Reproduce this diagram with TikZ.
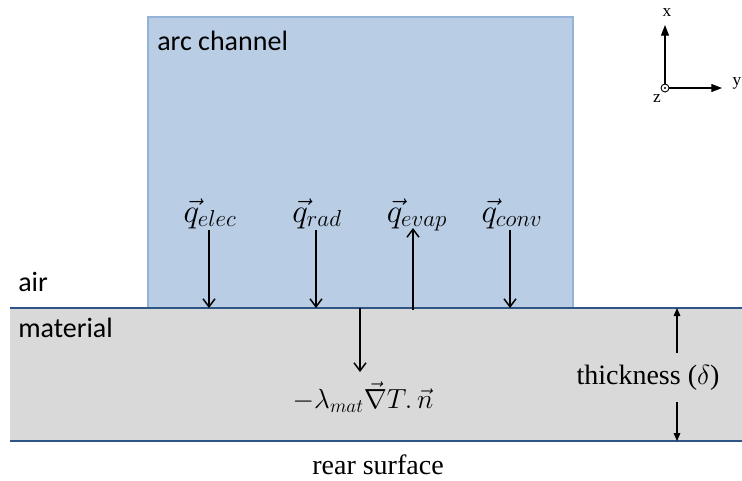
\documentclass[tikz,border=0pt]{standalone}
\usepackage{fontspec}
\setmainfont{Liberation Serif}
\newfontfamily\calib{Carlito}
\usetikzlibrary{arrows.meta}
\definecolor{arcfill}{HTML}{B9CDE5}
\definecolor{arcline}{HTML}{95B3D7}
\definecolor{matfill}{HTML}{D9D9D9}
\definecolor{surfline}{HTML}{2F5587}
\tikzset{
  flux/.style={draw=black, line width=1.1pt, -{Straight Barb[length=6pt,width=9pt,line width=1.1pt]}},
  dimarrow/.style={draw=black, line width=0.8pt, -{Triangle[length=6pt,width=5pt]}},
  axisarrow/.style={draw=black, line width=0.8pt, -{Triangle[length=8pt,width=6pt]}},
  sanslabel/.style={font=\calib\fontsize{21}{24}\selectfont, inner sep=0pt},
  seriflabel/.style={font=\fontsize{21}{24}\selectfont, inner sep=0pt},
  mathlabel/.style={font=\fontsize{25}{30}\selectfont, inner sep=0pt},
  condlabel/.style={font=\fontsize{21}{25}\selectfont, inner sep=0pt},
  axlabel/.style={font=\fontsize{13}{15}\selectfont, inner sep=0pt},
}
\begin{document}
\begin{tikzpicture}[x=0.75pt,y=-0.75pt]
\useasboundingbox (0,0) rectangle (742,480);
% arc channel
\filldraw[fill=arcfill, draw=arcline, line width=1.5pt] (148,17) rectangle (573,308);
% material
\fill[matfill] (10,308) rectangle (742,441);
\draw[surfline, line width=1.2pt] (10,308) -- (742,308);
\draw[surfline, line width=1.2pt] (10,441) -- (742,441);
% texts
\node[sanslabel, anchor=base west] (arc) at (157,50) {arc channel};
\node[sanslabel, anchor=base west] (air) at (18,291) {air};
\node[sanslabel, anchor=base west] (mat) at (18,337) {material};
\node[seriflabel] (rear) at (378,465) {rear surface};
\node[seriflabel] (thick) at (648,378) {thickness ($\delta$)};
% flux labels
\node[mathlabel, anchor=base] (qe) at (210,222) {$\vec{q}_{elec}$};
\node[mathlabel, anchor=base] (qr) at (317,222) {$\vec{q}_{rad}$};
\node[mathlabel, anchor=base] (qv) at (417,222) {$\vec{q}_{evap}$};
\node[mathlabel, anchor=base] (qc) at (512,222) {$\vec{q}_{conv}$};
\node[condlabel, anchor=base] (cond) at (363,408) {$-\lambda_{mat}\vec{\nabla}T.\,\vec{n}$};
% coordinates for arrows
\coordinate (e1) at (209,230); \coordinate (e2) at (209,308);
\coordinate (r1) at (316,230); \coordinate (r2) at (316,308);
\coordinate (v1) at (413,310); \coordinate (v2) at (413,228);
\coordinate (c1) at (510,230); \coordinate (c2) at (510,308);
\coordinate (m1) at (360,308); \coordinate (m2) at (360,372);
\draw[flux] (e1) -- (e2);
\draw[flux] (r1) -- (r2);
\draw[flux] (v1) -- (v2);
\draw[flux] (c1) -- (c2);
\draw[flux] (m1) -- (m2);
% thickness arrows
\coordinate (t1) at (677,353); \coordinate (t2) at (677,308);
\coordinate (t3) at (677,402); \coordinate (t4) at (677,441);
\draw[dimarrow] (t1) -- (t2);
\draw[dimarrow] (t3) -- (t4);
% axes
\coordinate (o) at (665,88);
\coordinate (ox) at (665,25);
\coordinate (oy) at (722,88);
\draw[axisarrow] (o) ++(0,-4) -- (ox);
\draw[axisarrow] (o) ++(4,0) -- (oy);
\draw[line width=0.7pt] (o) circle[radius=4];
\fill (o) circle[radius=1.2];
\node[axlabel] (lx) at (667,13) {x};
\node[axlabel] (ly) at (737,83) {y};
\node[axlabel] (lz) at (657,99) {z};
\end{tikzpicture}
\end{document}
